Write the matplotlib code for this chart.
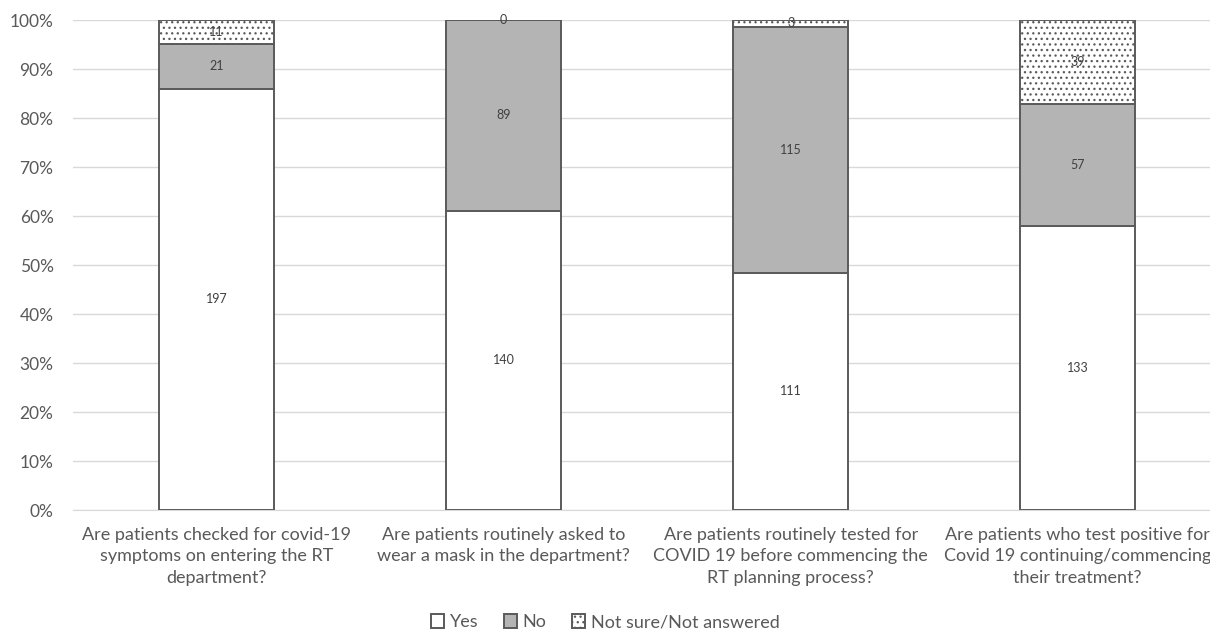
import matplotlib
matplotlib.use("Agg")
import matplotlib.pyplot as plt
import numpy as np

categories = [
    "Are patients checked for covid-19\nsymptoms on entering the RT\ndepartment?",
    "Are patients routinely asked to\nwear a mask in the department?",
    "Are patients routinely tested for\nCOVID 19 before commencing the\nRT planning process?",
    "Are patients who test positive for\nCovid 19 continuing/commencing\ntheir treatment?",
]
yes = [197, 140, 111, 133]
no = [21, 89, 115, 57]
not_sure = [11, 0, 3, 39]
series_names = ["Yes", "No", "Not sure/Not answered"]

plt.rcParams["font.family"] = ["Lato", "DejaVu Sans"]
plt.rcParams["hatch.color"] = "#1a1a1a"
plt.rcParams["hatch.linewidth"] = 0.9

fig = plt.figure(figsize=(12.10, 6.29), dpi=100)
ax = fig.add_axes([0.0603, 0.189, 0.949, 0.779])

x = np.arange(len(categories))
totals = np.array(yes) + np.array(no) + np.array(not_sure)
shares = [np.array(s) / totals * 100 for s in (yes, no, not_sure)]
counts = [yes, no, not_sure]
faces = ["white", "#b4b4b4", "white"]
hatches = [None, None, "..."]
edge = "#5a5a5a"
width = 0.4

bottom = np.zeros(len(categories))
handles = []
for share, cnt, fc, h, name in zip(shares, counts, faces, hatches, series_names):
    bars = ax.bar(x, share, width, bottom=bottom, color=fc, edgecolor=edge,
                  linewidth=1.4, hatch=h, label=name, zorder=3)
    handles.append(bars)
    for xi, b, s, c in zip(x, bottom, share, cnt):
        ax.text(xi, b + s / 2, f"{c}", ha="center", va="center",
                fontsize=9, color="#404040", zorder=4)
    bottom = bottom + share

ax.set_xlim(-0.5, 3.5)
ax.set_ylim(0, 100)
ax.set_yticks(np.arange(0, 101, 10))
ax.set_yticklabels([f"{v}%" for v in range(0, 101, 10)])
ax.yaxis.grid(True, color="#d9d9d9", linewidth=1.0, zorder=0)
ax.set_axisbelow(True)
for side in ("top", "right", "left"):
    ax.spines[side].set_visible(False)
ax.spines["bottom"].set_color("#d9d9d9")
ax.tick_params(axis="both", length=0, labelcolor="#595959")
ax.tick_params(axis="y", pad=14, labelsize=12.5)
ax.tick_params(axis="x", pad=12, labelsize=13)
ax.set_xticks(x)
ax.set_xticklabels(categories, linespacing=1.42)

fig.legend(handles=handles, labels=series_names, loc="lower center",
           bbox_to_anchor=(0.5, -0.028), ncol=3, frameon=False,
           fontsize=13, labelcolor="#595959", handlelength=0.75,
           handleheight=0.75, handletextpad=0.3, columnspacing=1.4)

fig.savefig("out.png", dpi=100)
